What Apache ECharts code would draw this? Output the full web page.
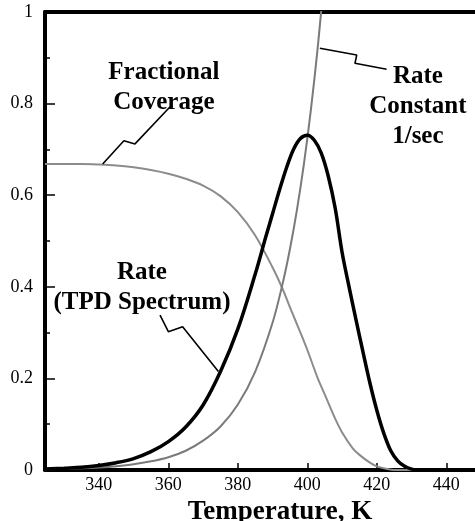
<!DOCTYPE html>
<html><head><meta charset="utf-8">
<script src="https://cdn.jsdelivr.net/npm/echarts@6/dist/echarts.min.js"></script>
<style>html,body{margin:0;padding:0;background:#fff}#c{width:475px;height:521px}</style>
</head><body><div id="c"></div>
<script>
// ---- data ----
const tempCoverage = [324.5,330,335,340,345,350,355,360,365,370,375,380,385,390,393,395,398,400,403,405,408,410,413,415,418,420,423,425,460];
const coverage     = [0.668,0.668,0.668,0.667,0.665,0.661,0.655,0.647,0.636,0.621,0.598,0.563,0.512,0.442,0.393,0.355,0.300,0.262,0.200,0.165,0.112,0.082,0.048,0.033,0.016,0.008,0.002,0,0];

const tempRate = [324.5,330,335,340,345,350,355,360,365,370,375,380,385,388,390,392,394,396,398,400,402,404,406,408,410,412,414,416,418,420,422,424,426,428,430,432,460];
const rate     = [0.002,0.004,0.006,0.010,0.016,0.025,0.040,0.062,0.094,0.142,0.215,0.308,0.428,0.508,0.560,0.612,0.660,0.700,0.724,0.731,0.720,0.692,0.642,0.572,0.475,0.400,0.328,0.258,0.190,0.130,0.080,0.042,0.020,0.008,0.002,0,0];

const tempK        = [324.5,330,335,340,345,350,355,360,365,370,375,380,385,390,393,395,397,399,401,403,405];
const rateConstant = [0.0016,0.0025,0.0037,0.0055,0.0083,0.0125,0.019,0.028,0.042,0.064,0.095,0.143,0.215,0.322,0.411,0.483,0.568,0.668,0.786,0.924,1.087];

const xTicks = [340,360,380,400,420,440];

// annotation leader lines (data coordinates)
const leaderCoverage = [[341.1,0.668],[347.2,0.719],[350.4,0.712],[360.5,0.793]];
const leaderRateK    = [[403.6,0.921],[414.2,0.906],[413.7,0.888],[422.8,0.875]];
const leaderRate     = [[357.6,0.338],[360.0,0.302],[364.1,0.313],[374.4,0.215]];
const labelFC   = {text:'Fractional\nCoverage', at:[358.7,0.835]};
const labelRK   = {text:'Rate\nConstant\n1/sec', at:[431.8,0.793]};
const labelRate = {text:'Rate\n(TPD Spectrum)', at:[352.4,0.398]};

const FONT = '"Liberation Serif","Times New Roman",serif';
const zip = (a,b)=>a.map((v,i)=>[v,b[i]]);

const chart = echarts.init(document.getElementById('c'), null, {renderer:'canvas'});
const leader = d => ({type:'line', data:d, showSymbol:false, silent:true, z:3,
  lineStyle:{color:'#000', width:1.6}, animation:false});
const XMIN = 324.5, XMAX = 459.75;

chart.setOption({
  animation:false,
  backgroundColor:'#fff',
  grid:{left:45, right:-40, top:12, bottom:51, outerBoundsMode:'none', containLabel:false},
  xAxis:[{
    type:'value', min:XMIN, max:XMAX,
    axisLine:{show:true, onZero:false, lineStyle:{color:'#000', width:4}},
    axisTick:{show:true, inside:true, length:7, customValues:xTicks, lineStyle:{color:'#000', width:1.5}},
    axisLabel:{customValues:xTicks, margin:6, color:'#000', fontFamily:FONT, fontSize:18},
    splitLine:{show:false},
    name:'Temperature, K', nameLocation:'middle', nameGap:21,
    nameTextStyle:{color:'#000', fontFamily:FONT, fontSize:27, fontWeight:'bold'}
  },{
    type:'value', position:'top', min:XMIN, max:XMAX,
    axisLine:{show:true, onZero:false, lineStyle:{color:'#000', width:4}},
    axisTick:{show:false}, axisLabel:{show:false}, splitLine:{show:false}
  }],
  yAxis:{
    type:'value', min:0, max:1, interval:0.2,
    axisLine:{show:true, onZero:false, lineStyle:{color:'#000', width:4}},
    axisTick:{show:true, inside:true, length:10, lineStyle:{color:'#000', width:1.5}},
    minorTick:{show:true, splitNumber:2, length:5, lineStyle:{color:'#000', width:1.5}},
    axisLabel:{margin:12, color:'#000', fontFamily:FONT, fontSize:18},
    splitLine:{show:false}
  },
  series:[
    {name:'Fractional Coverage', type:'line', data:zip(tempCoverage,coverage), showSymbol:false, smooth:0.35,
     lineStyle:{color:'#8c8c8c', width:2}, z:2},
    {name:'Rate Constant', type:'line', data:zip(tempK,rateConstant), showSymbol:false, smooth:0.35, clip:true,
     lineStyle:{color:'#7a7a7a', width:2}, z:2},
    {name:'Rate', type:'line', data:zip(tempRate,rate), showSymbol:false, smooth:0.35,
     lineStyle:{color:'#000', width:3.5}, z:4},
    leader(leaderCoverage), leader(leaderRateK), leader(leaderRate)
  ]
});

const textEl = l => {
  const p = chart.convertToPixel({gridIndex:0}, l.at);
  return {type:'text', x:p[0], y:p[1], z:10, style:{text:l.text, align:'center', verticalAlign:'middle',
    font:'bold 25px ' + FONT, lineHeight:30, fill:'#000'}};
};
chart.setOption({graphic:[textEl(labelFC), textEl(labelRK), textEl(labelRate)]});
</script>
</body></html>
